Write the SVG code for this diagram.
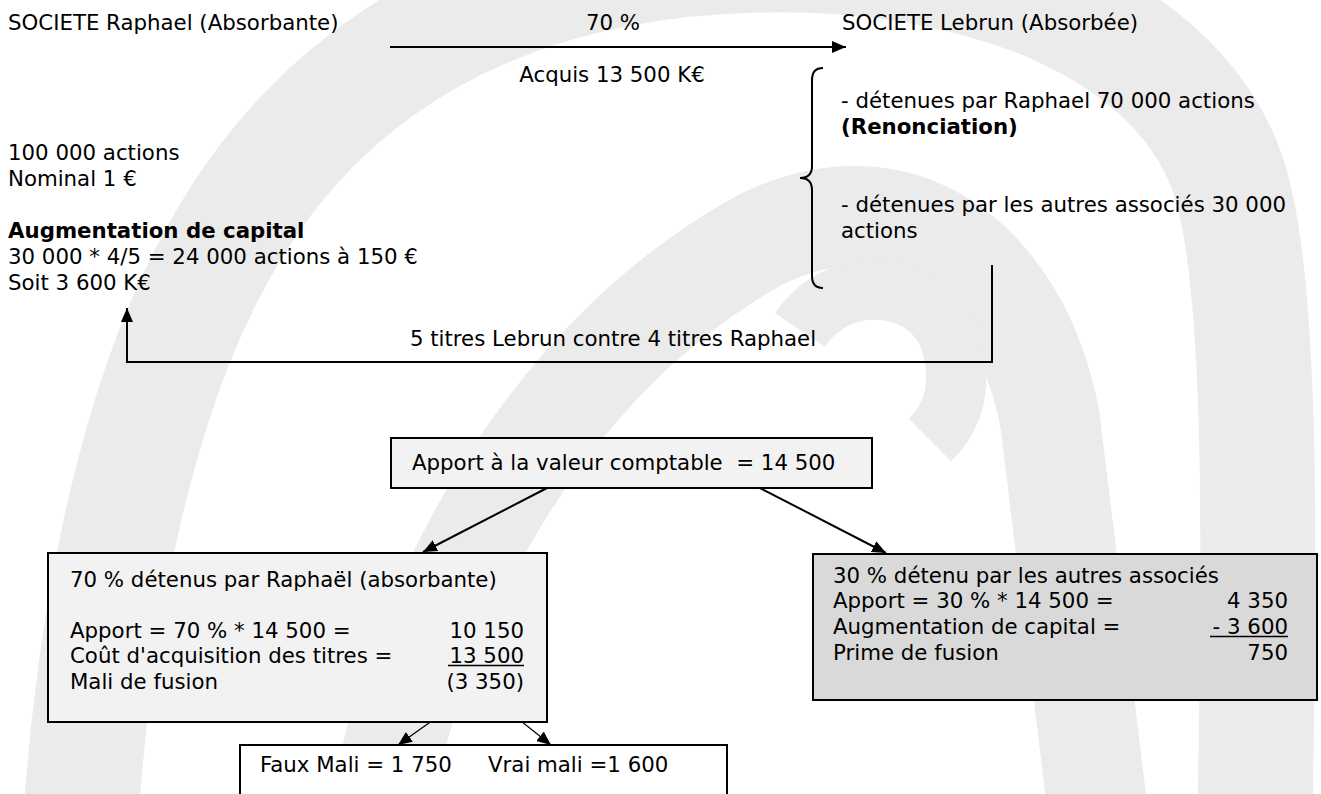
<svg xmlns="http://www.w3.org/2000/svg" width="1321" height="794" viewBox="0 0 1321 794">
<defs>
<style>
.t{font-family:"DejaVu Sans",Verdana,sans-serif;font-size:21.3px;fill:#000}
.b{font-weight:bold}
.e{text-anchor:end}
.m{text-anchor:middle}
.ln{stroke:#000;stroke-width:2;fill:none}
.thin{stroke:#000;stroke-width:1.3;fill:none}
.box{stroke:#000;stroke-width:2}
.wm{fill:none;stroke:#ebebeb}
</style>
<marker id="ahL" viewBox="0 0 10 10" refX="10" refY="5" markerWidth="14" markerHeight="12" markerUnits="userSpaceOnUse" orient="auto" preserveAspectRatio="none">
<path d="M0,0 L10,5 L0,10 z" fill="#000"/>
</marker>
</defs>
<rect width="1321" height="794" fill="#fff"/>
<g id="watermark">
<path class="wm" stroke-width="115" d="M80 830 C95 600 140 390 220 250 C320 70 500 -40 760 -45 C1000 -50 1200 40 1235 200 C1265 330 1258 600 1255 830"/>
<path class="wm" stroke-width="100" d="M375 830 C420 580 560 350 760 240 C900 170 1020 260 1050 420 L1100 830"/>
<path class="wm" stroke-width="60" d="M800 330 C840 270 930 280 950 340 C965 390 950 420 930 440"/>
</g>
<g id="connectors">
<line class="ln" x1="390" y1="47" x2="846" y2="47" marker-end="url(#ahL)"/>
<path class="ln" d="M823 68 Q812 68 812 80 L812 166 Q812 178 800 178 Q812 178 812 190 L812 276 Q812 288 823 288" stroke-width="1.5"/>
<polyline class="ln" points="992,265 992,362 127,362 127,308" marker-end="url(#ahL)"/>
<line class="ln" x1="547" y1="488" x2="423" y2="552" marker-end="url(#ahL)"/>
<line class="ln" x1="760" y1="488" x2="886" y2="553" marker-end="url(#ahL)"/>
<line class="thin" x1="464" y1="698" x2="398" y2="745" marker-end="url(#ahL)"/>
<line class="thin" x1="492" y1="698" x2="551" y2="745" marker-end="url(#ahL)"/>
</g>
<g id="societe-raphael">
<text class="t" x="8" y="30">SOCIETE Raphael (Absorbante)</text>
<text class="t" x="8" y="160">100 000 actions</text>
<text class="t" x="8" y="186">Nominal 1 €</text>
<text class="t b" x="8" y="238">Augmentation de capital</text>
<text class="t" x="8" y="264">30 000 * 4/5 = 24 000 actions à 150 €</text>
<text class="t" x="8" y="290">Soit 3 600 K€</text>
</g>
<g id="labels">
<text class="t m" x="613" y="30">70 %</text>
<text class="t m" x="612" y="82">Acquis 13 500 K€</text>
<text class="t m" x="613" y="346">5 titres Lebrun contre 4 titres Raphael</text>
</g>
<g id="societe-lebrun">
<text class="t" x="842" y="30">SOCIETE Lebrun (Absorbée)</text>
<text class="t" x="841" y="108">- détenues par Raphael 70 000 actions</text>
<text class="t b" x="841" y="134">(Renonciation)</text>
<text class="t" x="841" y="212">- détenues par les autres associés 30 000</text>
<text class="t" x="841" y="238">actions</text>
</g>
<g id="apport">
<rect class="box" x="391" y="438" width="481" height="50" fill="#f2f2f2"/>
<text class="t" x="412" y="470" xml:space="preserve">Apport à la valeur comptable  = 14 500</text>
</g>
<g id="raphael-70">
<rect class="box" x="48" y="553" width="499" height="169" fill="#f2f2f2"/>
<text class="t" x="70" y="587">70 % détenus par Raphaël (absorbante)</text>
<text class="t" x="70" y="638">Apport = 70 % * 14 500 =</text>
<text class="t e" x="524" y="638">10 150</text>
<text class="t" x="70" y="663">Coût d'acquisition des titres =</text>
<text class="t e" x="524" y="663">13 500</text>
<line x1="448" y1="665.5" x2="524" y2="665.5" stroke="#000" stroke-width="1.5"/>
<text class="t" x="70" y="689">Mali de fusion</text>
<text class="t e" x="524" y="689">(3 350)</text>
</g>
<g id="autres-30">
<rect class="box" x="813" y="554" width="504" height="146" fill="#d9d9d9"/>
<text class="t" x="833" y="583">30 % détenu par les autres associés</text>
<text class="t" x="833" y="608">Apport = 30 % * 14 500 =</text>
<text class="t e" x="1288" y="608">4 350</text>
<text class="t" x="833" y="634">Augmentation de capital =</text>
<text class="t e" x="1288" y="634">- 3 600</text>
<line x1="1210" y1="636.5" x2="1288" y2="636.5" stroke="#000" stroke-width="1.5"/>
<text class="t" x="833" y="660">Prime de fusion</text>
<text class="t e" x="1288" y="660">750</text>
</g>
<g id="mali">
<rect class="box" x="240" y="745" width="487" height="60" fill="#fff"/>
<text class="t" x="260" y="772">Faux Mali = 1 750</text>
<text class="t" x="488" y="772">Vrai mali =1 600</text>
</g>
</svg>
